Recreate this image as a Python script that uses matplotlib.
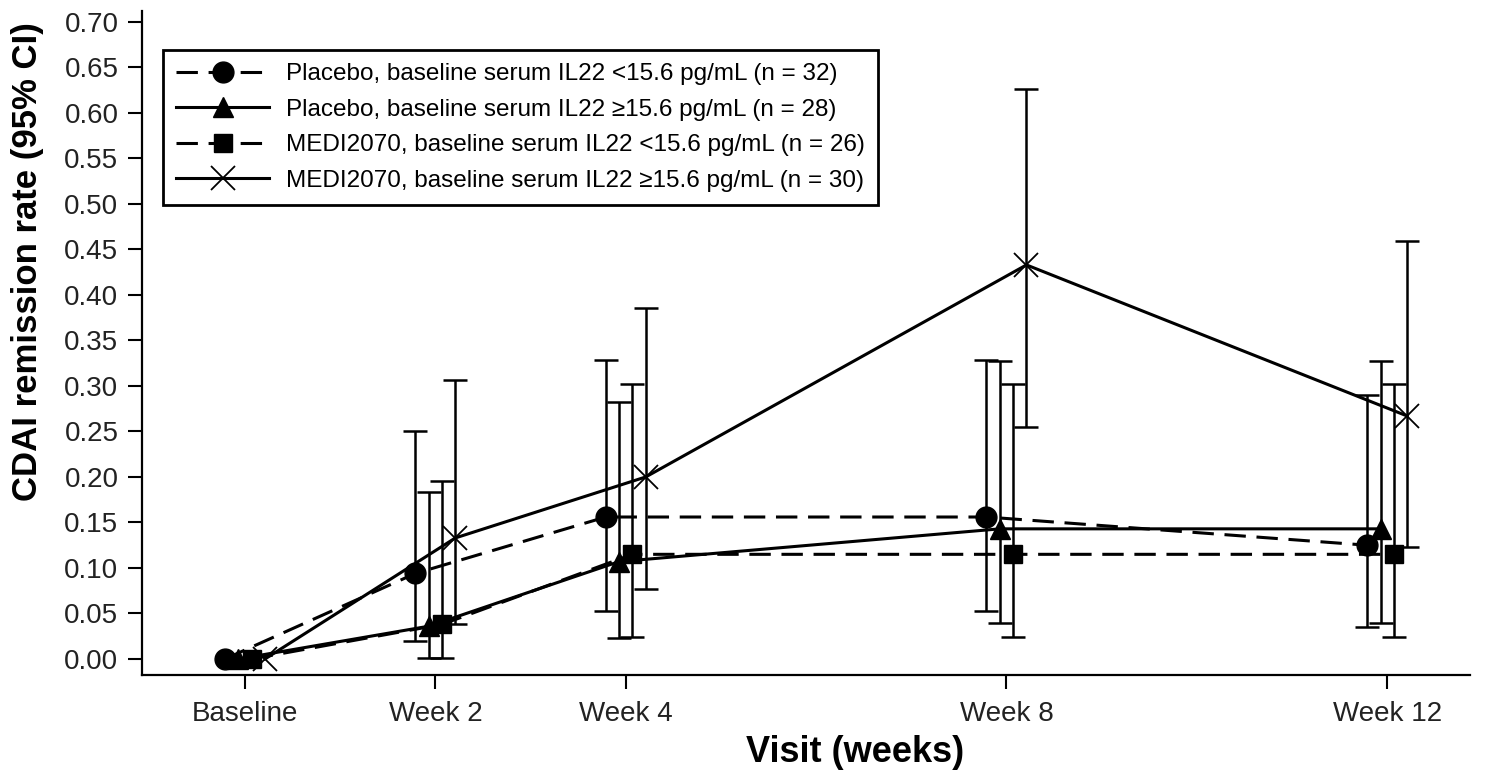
import numpy as np
import matplotlib
matplotlib.use("Agg")
import matplotlib.pyplot as plt

plt.rcParams['font.family'] = ['Liberation Sans', 'DejaVu Sans']

visits = ['Baseline', 'Week 2', 'Week 4', 'Week 8', 'Week 12']
weeks = [0, 2, 4, 8, 12]

labels = [
    'Placebo, baseline serum IL22 <15.6 pg/mL (n = 32)',
    'Placebo, baseline serum IL22 \u226515.6 pg/mL (n = 28)',
    'MEDI2070, baseline serum IL22 <15.6 pg/mL (n = 26)',
    'MEDI2070, baseline serum IL22 \u226515.6 pg/mL (n = 30)',
]

placebo_low_rate = [0.000, 0.094, 0.156, 0.156, 0.125]
placebo_low_lo = [np.nan, 0.020, 0.053, 0.053, 0.035]
placebo_low_hi = [np.nan, 0.250, 0.328, 0.328, 0.290]

placebo_high_rate = [0.000, 0.036, 0.107, 0.143, 0.143]
placebo_high_lo = [np.nan, 0.001, 0.023, 0.040, 0.040]
placebo_high_hi = [np.nan, 0.183, 0.282, 0.327, 0.327]

medi_low_rate = [0.000, 0.038, 0.115, 0.115, 0.115]
medi_low_lo = [np.nan, 0.001, 0.024, 0.024, 0.024]
medi_low_hi = [np.nan, 0.196, 0.302, 0.302, 0.302]

medi_high_rate = [0.000, 0.133, 0.200, 0.433, 0.267]
medi_high_lo = [np.nan, 0.038, 0.077, 0.255, 0.123]
medi_high_hi = [np.nan, 0.307, 0.386, 0.626, 0.459]

series = [
    (placebo_low_rate, placebo_low_lo, placebo_low_hi),
    (placebo_high_rate, placebo_high_lo, placebo_high_hi),
    (medi_low_rate, medi_low_lo, medi_low_hi),
    (medi_high_rate, medi_high_lo, medi_high_hi),
]

offsets = [-0.21, -0.07, 0.07, 0.21]
styles = [
    dict(marker='o', ms=15, ls=(0, (7, 3.5)), mfc='black', mew=1),
    dict(marker='^', ms=15, ls='-', mfc='black', mew=1),
    dict(marker='s', ms=13, ls=(0, (7, 3.5)), mfc='black', mew=1),
    dict(marker='x', ms=17, ls='-', mfc='black', mew=1.3),
]

W, H = 1499, 770
fig = plt.figure(figsize=(W / 100, H / 100), dpi=100)
L, R, T, B = 142, 1470, 11, 675
ax = fig.add_axes([L / W, 1 - B / H, (R - L) / W, (B - T) / H])

handles = []
for (rate, lo, hi), off, st, lab in zip(series, offsets, styles, labels):
    x = np.array(weeks, dtype=float) + off
    y = np.array(rate)
    lo = np.array(lo)
    hi = np.array(hi)
    m = np.isfinite(lo)
    ax.errorbar(x[m], y[m], yerr=[y[m] - lo[m], hi[m] - y[m]], fmt='none',
                ecolor='black', elinewidth=1.8, capsize=8.5, capthick=1.8, zorder=2)
    h, = ax.plot(x, y, color='black', lw=2.2, marker=st['marker'], ms=st['ms'],
                 ls=st['ls'], mfc=st['mfc'], mec='black', mew=st['mew'], zorder=3,
                 label=lab)
    handles.append(h)

ax.set_xlim(-1.082, 12.87)
ax.set_ylim(-0.0176, 0.712)
ax.set_xticks(weeks)
ax.set_xticklabels(visits)
ax.set_yticks(np.arange(0, 0.701, 0.05))
ax.set_yticklabels([f'{v:.2f}' for v in np.arange(0, 0.701, 0.05)])
for s in ['top', 'right']:
    ax.spines[s].set_visible(False)
for s in ['left', 'bottom']:
    ax.spines[s].set_linewidth(1.6)
ax.tick_params(axis='both', direction='out', length=10, width=1.5,
               labelsize=20, colors='black', labelcolor='#222222')
ax.tick_params(axis='x', pad=9)
ax.tick_params(axis='y', pad=7)

leg = ax.legend(handles=handles, loc='upper left',
                bbox_to_anchor=((163 - L) / (R - L), (B - 50) / (B - T)),
                fontsize=17.5, frameon=True, fancybox=False, edgecolor='black',
                handlelength=3.8, handletextpad=0.7, borderpad=0.55,
                labelspacing=0.55, borderaxespad=0)
leg.get_frame().set_linewidth(2.0)
leg.get_frame().set_alpha(1)

fig.text(855 / W, 1 - 753 / H, 'Visit (weeks)', ha='center', va='center',
         fontsize=26, fontweight='bold')
fig.text(28 / W, 1 - 262 / H, 'CDAI remission rate (95% CI)', ha='center',
         va='center', rotation=90, fontsize=25, fontweight='bold')

fig.savefig('out.png', dpi=100)
